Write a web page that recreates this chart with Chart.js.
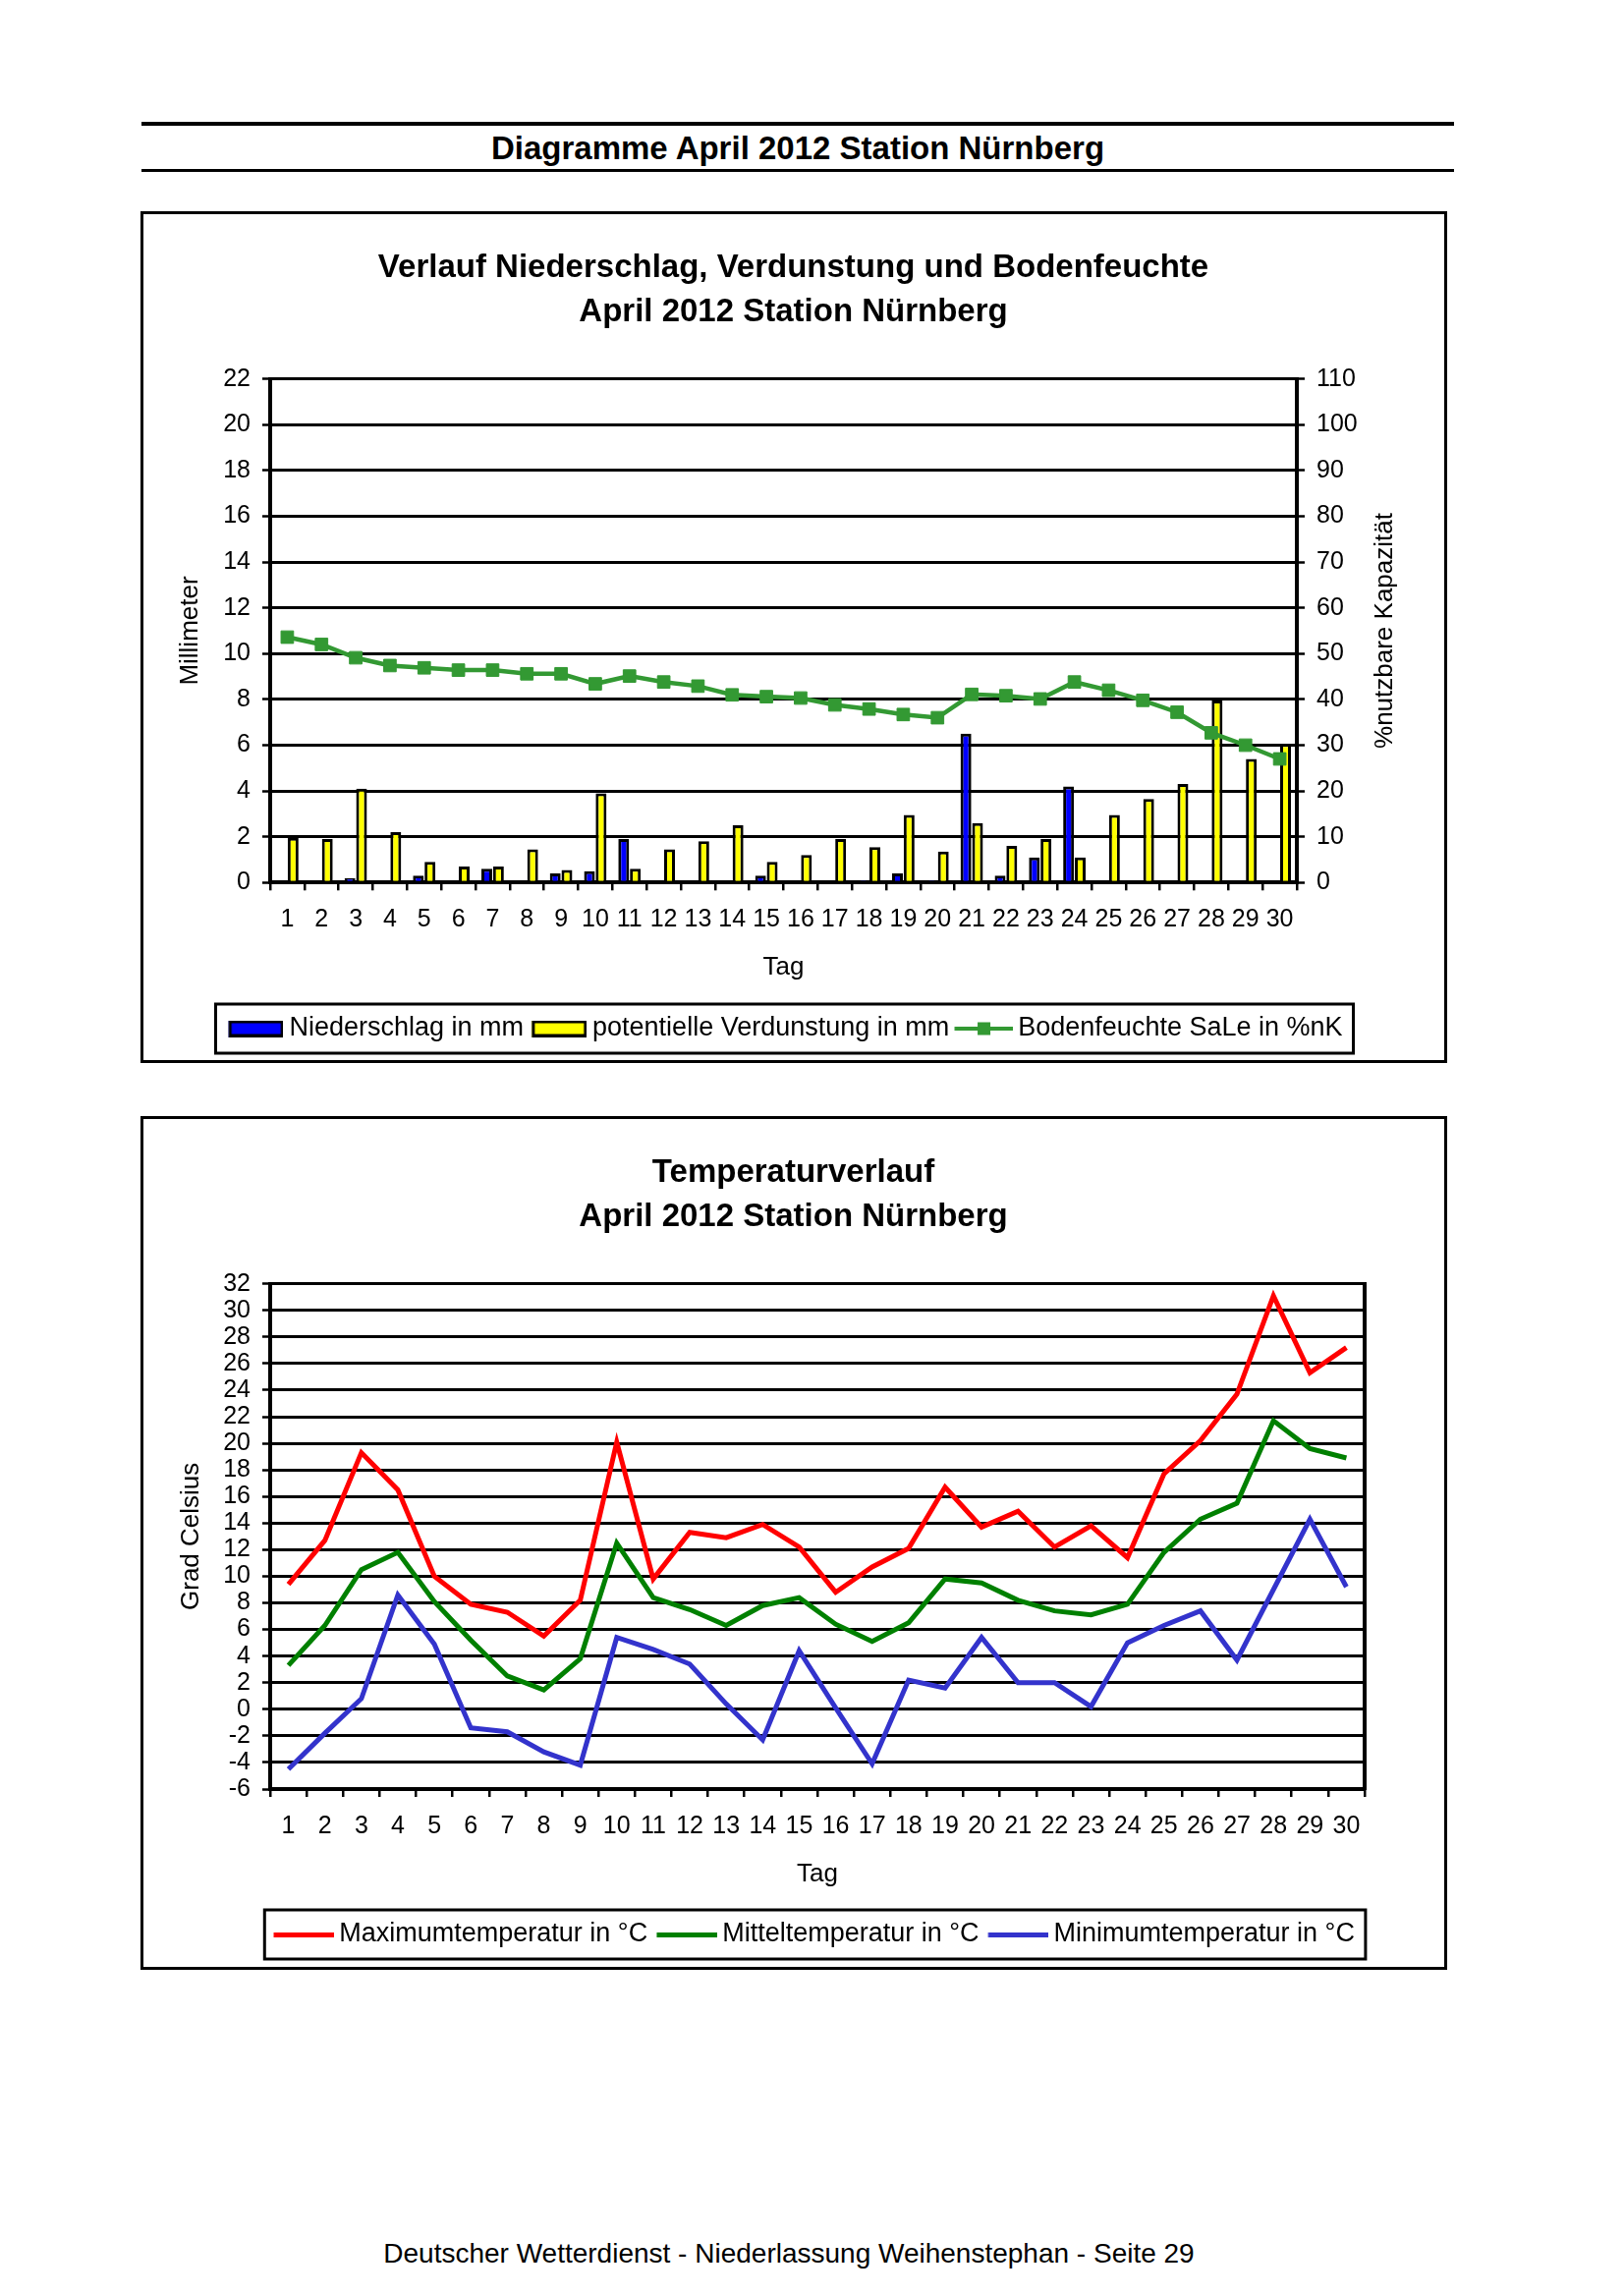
<!DOCTYPE html>
<html>
<head>
<meta charset="utf-8">
<script src="https://cdn.jsdelivr.net/npm/chart.js@4.4.1/dist/chart.umd.min.js"></script>
<style>
html,body{margin:0;padding:0;background:#fff;}
body{width:1653px;height:2337px;position:relative;overflow:hidden;font-family:'Liberation Sans',Arial,Helvetica,sans-serif;color:#000;}
.hline{position:absolute;left:144px;width:1336px;background:#000;}
#head{position:absolute;left:144px;width:1336px;top:130px;height:41px;line-height:41px;text-align:center;font-weight:bold;font-size:33px;}
.box{position:absolute;border:3px solid #000;box-sizing:border-box;}
canvas{position:absolute;}
#foot{position:absolute;left:0;width:1606px;top:2278px;height:32px;line-height:32px;text-align:center;font-size:28px;}
</style>
</head>
<body>
<div class="hline" style="top:124px;height:4px;"></div>
<div id="head">Diagramme April 2012 Station Nürnberg</div>
<div class="hline" style="top:172px;height:3px;"></div>

<div class="box" style="left:143px;top:215px;width:1330px;height:867px;"></div>
<canvas id="c1" width="1329" height="866" style="left:143px;top:216px;"></canvas>

<div class="box" style="left:143px;top:1136px;width:1330px;height:869px;"></div>
<canvas id="c2" width="1329" height="867" style="left:143px;top:1137px;"></canvas>

<div id="foot">Deutscher Wetterdienst - Niederlassung Weihenstephan - Seite 29</div>

<script>
// ---------- data ----------
const days = ['1','2','3','4','5','6','7','8','9','10','11','12','13','14','15','16','17','18','19','20','21','22','23','24','25','26','27','28','29','30'];

const niederschlag = [0, 0, 0.2, 0, 0.3, 0, 0.6, 0, 0.4, 0.5, 1.9, 0, 0, 0, 0.3, 0, 0, 0.1, 0.4, 0.1, 6.5, 0.3, 1.1, 4.2, 0, 0, 0, 0, 0, 0];
const verdunstung = [1.95, 1.9, 4.1, 2.2, 0.9, 0.7, 0.7, 1.45, 0.55, 3.9, 0.6, 1.45, 1.8, 2.5, 0.9, 1.2, 1.9, 1.55, 2.95, 1.35, 2.6, 1.6, 1.9, 1.1, 2.95, 3.65, 4.3, 7.95, 5.4, 6.05];
const bodenfeuchte = [53.6, 52.0, 49.1, 47.4, 46.9, 46.4, 46.4, 45.6, 45.6, 43.4, 45.1, 43.8, 42.9, 41.0, 40.6, 40.3, 38.8, 37.9, 36.7, 36.0, 41.1, 40.8, 40.1, 43.8, 42.0, 39.8, 37.2, 32.7, 30.0, 27.0];

const tMax = [9.4, 12.7, 19.3, 16.5, 10.0, 7.9, 7.3, 5.5, 8.2, 20.1, 9.8, 13.3, 12.9, 13.9, 12.2, 8.8, 10.7, 12.1, 16.7, 13.7, 14.9, 12.2, 13.8, 11.4, 17.7, 20.2, 23.7, 31.1, 25.3, 27.2];
const tMittel = [3.3, 6.3, 10.5, 11.8, 8.1, 5.2, 2.5, 1.45, 3.8, 12.5, 8.4, 7.5, 6.3, 7.8, 8.4, 6.4, 5.1, 6.5, 9.8, 9.5, 8.2, 7.4, 7.1, 7.9, 11.8, 14.3, 15.5, 21.7, 19.6, 18.9];
const tMin = [-4.5, -1.8, 0.8, 8.6, 4.9, -1.4, -1.7, -3.2, -4.2, 5.4, 4.5, 3.4, 0.4, -2.3, 4.4, 0.1, -4.1, 2.2, 1.6, 5.4, 2.0, 2.0, 0.2, 5.0, 6.3, 7.4, 3.7, 9.0, 14.3, 9.2];

const mmRange = [0, 22, 2];
const pctRange = [0, 110, 10];
const tempRange = [-6, 32, 2];

const title1 = ['Verlauf Niederschlag, Verdunstung und Bodenfeuchte', 'April 2012 Station Nürnberg'];
const title2 = ['Temperaturverlauf', 'April 2012 Station Nürnberg'];

// ---------- styling ----------
const FONT = "'Liberation Sans', Arial, Helvetica, sans-serif";
Chart.defaults.font.family = FONT;
Chart.defaults.color = '#000';

// legend glyphs: drawn shifted right by s inside a wider transparent canvas
function glyphRect(fill, s) {
  const gw = 56, gh = 17;
  const c = document.createElement('canvas'); c.width = gw + 2 * s; c.height = gh;
  const g = c.getContext('2d');
  g.translate(2 * s, 0);
  g.fillStyle = fill; g.fillRect(0, 0, gw, gh);
  g.strokeStyle = '#000'; g.lineWidth = 3; g.strokeRect(1.5, 1.5, gw - 3, gh - 3);
  return c;
}
function glyphLineMarker(col, s) {
  const gw = 60;
  const c = document.createElement('canvas'); c.width = gw + 2 * s; c.height = 14;
  const g = c.getContext('2d');
  g.translate(2 * s, 0);
  g.fillStyle = col; g.fillRect(0, 5, gw, 4); g.fillRect(gw / 2 - 6.5, 0.5, 13, 13);
  return c;
}
function glyphLine(col, s) {
  const gw = 62;
  const c = document.createElement('canvas'); c.width = gw + 2 * s; c.height = 5;
  const g = c.getContext('2d');
  g.translate(2 * s, 0);
  g.fillStyle = col; g.fillRect(0, 0, gw, 5);
  return c;
}

const framePlugin = {
  id: 'frame',
  afterLayout(chart, args, opts) {
    if (opts.legendShift && chart.legend) {
      chart.legend.left += opts.legendShift;
      chart.legend.right += opts.legendShift;
    }
  },
  afterDraw(chart, args, opts) {
    const ctx = chart.ctx;
    const lg = chart.legend;
    if (lg && lg.legendHitBoxes && lg.legendHitBoxes.length) {
      const hb = lg.legendHitBoxes;
      const l = Math.min(...hb.map(h => h.left)) - opts.legendPadL;
      const r = Math.max(...hb.map(h => h.left + h.width)) + opts.legendPadR;
      const cy = hb[0].top + hb[0].height / 2;
      ctx.save();
      ctx.strokeStyle = '#000'; ctx.lineWidth = 3;
      ctx.strokeRect(l, cy - opts.legendHalfH, r - l, 2 * opts.legendHalfH);
      ctx.restore();
    }
    if (opts.rightTitle) {
      const a = chart.chartArea;
      ctx.save();
      ctx.translate(opts.rightTitleX, (a.top + a.bottom) / 2);
      ctx.rotate(-Math.PI / 2);
      ctx.font = '26px ' + FONT;
      ctx.fillStyle = '#000';
      ctx.textAlign = 'center'; ctx.textBaseline = 'middle';
      ctx.fillText(opts.rightTitle, 0, 0);
      ctx.restore();
    }
  }
};

function legendOpts(glyphs, boxW) {
  return {
    position: 'bottom',
    labels: {
      usePointStyle: true,
      pointStyleWidth: boxW,
      padding: 0,
      font: { size: 27 },
      color: '#000',
      generateLabels(chart) {
        const items = Chart.defaults.plugins.legend.labels.generateLabels(chart);
        items.sort((a, b) => a.datasetIndex - b.datasetIndex);
        items.forEach(it => { it.pointStyle = glyphs[it.datasetIndex]; });
        return items;
      }
    }
  };
}

const titleOpts = (text) => ({
  display: true, text: text, color: '#000',
  font: { size: 33, weight: 'bold', lineHeight: 1.3485 },
  padding: { top: 34.75, bottom: 45.95 }
});

const gridY = { color: '#000', lineWidth: 3, tickLength: 8, tickWidth: 2.5, drawTicks: true };
const tickFont = { size: 25 };

// ---------- chart 1 ----------
new Chart(document.getElementById('c1'), {
  type: 'bar',
  data: {
    labels: days,
    datasets: [
      { label: 'Niederschlag in mm', data: niederschlag, backgroundColor: '#0000FF', borderColor: '#000', borderWidth: 3,
        yAxisID: 'y', order: 1, categoryPercentage: 0.68, barPercentage: 0.93 },
      { label: 'potentielle Verdunstung in mm', data: verdunstung, backgroundColor: '#FFFF00', borderColor: '#000', borderWidth: 3,
        yAxisID: 'y', order: 1, categoryPercentage: 0.68, barPercentage: 0.93 },
      { type: 'line', label: 'Bodenfeuchte SaLe in %nK', data: bodenfeuchte, borderColor: '#339933', backgroundColor: '#339933',
        borderWidth: 4.5, pointStyle: 'rect', pointRadius: 9, pointBorderWidth: 1, tension: 0, yAxisID: 'y2', order: 0 }
    ]
  },
  options: {
    responsive: false, animation: false, devicePixelRatio: 1,
    events: [],
    layout: { padding: { left: 0, right: 0, top: 0, bottom: 11.5 } },
    plugins: {
      title: titleOpts(title1),
      legend: legendOpts([glyphRect('#0000FF', 7.75), glyphRect('#FFFF00', 7.75), glyphLineMarker('#339933', 6.75)], 56.5),
      tooltip: { enabled: false },
      frame: { legendShift: -12, legendPadL: 5, legendPadR: 11, legendHalfH: 25, rightTitle: '%nutzbare Kapazität', rightTitleX: 1267 }
    },
    scales: {
      x: {
        offset: true,
        grid: { offset: true, drawOnChartArea: false, drawTicks: true, tickLength: 8, color: '#000', lineWidth: 2.5 },
        border: { display: true, color: '#000', width: 4 },
        ticks: { font: tickFont, color: '#000', padding: 14.7, maxRotation: 0, autoSkip: false },
        title: { display: true, text: 'Tag', font: { size: 26 }, color: '#000', padding: { top: 0, bottom: 32.9 } },
        afterFit(s) { s.height = 135.2; }
      },
      y: {
        position: 'left', min: mmRange[0], max: mmRange[1],
        ticks: { stepSize: mmRange[2], font: tickFont, color: '#000', padding: 12, autoSkip: false },
        grid: gridY,
        border: { display: true, color: '#000', width: 4 },
        title: { display: true, text: 'Millimeter', font: { size: 26 }, color: '#000', padding: { top: 35.4, bottom: 0 } },
        afterFit(s) { s.width = 132; }
      },
      y2: {
        position: 'right', min: pctRange[0], max: pctRange[1],
        ticks: { stepSize: pctRange[2], font: tickFont, color: '#000', padding: 12, autoSkip: false },
        grid: { drawOnChartArea: false, color: '#000', lineWidth: 3, tickLength: 8, tickWidth: 2.5 },
        border: { display: true, color: '#000', width: 4 },
        afterFit(s) { s.width = 152; }
      }
    }
  },
  plugins: [framePlugin]
});

// ---------- chart 2 ----------
new Chart(document.getElementById('c2'), {
  type: 'line',
  data: {
    labels: days,
    datasets: [
      { label: 'Maximumtemperatur in °C', data: tMax, borderColor: '#FF0000', backgroundColor: '#FF0000', borderWidth: 5, pointRadius: 0, tension: 0, fill: false },
      { label: 'Mitteltemperatur in °C', data: tMittel, borderColor: '#008000', backgroundColor: '#008000', borderWidth: 5, pointRadius: 0, tension: 0, fill: false },
      { label: 'Minimumtemperatur in °C', data: tMin, borderColor: '#3333CC', backgroundColor: '#3333CC', borderWidth: 5, pointRadius: 0, tension: 0, fill: false }
    ]
  },
  options: {
    responsive: false, animation: false, devicePixelRatio: 1,
    events: [],
    layout: { padding: { left: 0, right: 0, top: 0, bottom: 11.5 } },
    plugins: {
      title: titleOpts(title2),
      legend: legendOpts([glyphLine('#FF0000', 8.75), glyphLine('#008000', 8.75), glyphLine('#3333CC', 8.75)], 62.5),
      tooltip: { enabled: false },
      frame: { legendShift: 16.6, legendPadL: 0, legendPadR: 11, legendHalfH: 25 }
    },
    scales: {
      x: {
        offset: true,
        grid: { offset: true, drawOnChartArea: false, drawTicks: true, tickLength: 8, color: '#000', lineWidth: 2.5 },
        border: { display: true, color: '#000', width: 4 },
        ticks: { font: tickFont, color: '#000', padding: 15, maxRotation: 0, autoSkip: false },
        title: { display: true, text: 'Tag', font: { size: 26 }, color: '#000', padding: { top: 0, bottom: 31.9 } },
        afterFit(s) { s.height = 134.5; }
      },
      y: {
        position: 'left', min: tempRange[0], max: tempRange[1],
        ticks: { stepSize: tempRange[2], font: tickFont, color: '#000', padding: 12, autoSkip: false },
        grid: gridY,
        border: { display: true, color: '#000', width: 4 },
        title: { display: true, text: 'Grad Celsius', font: { size: 26 }, color: '#000', padding: { top: 36.4, bottom: 0 } },
        afterFit(s) { s.width = 132; }
      },
      y2: {
        position: 'right', min: tempRange[0], max: tempRange[1],
        ticks: { display: false },
        grid: { drawOnChartArea: false, drawTicks: false },
        border: { display: true, color: '#000', width: 4 },
        afterFit(s) { s.width = 83; }
      }
    }
  },
  plugins: [framePlugin]
});
</script>
</body>
</html>
